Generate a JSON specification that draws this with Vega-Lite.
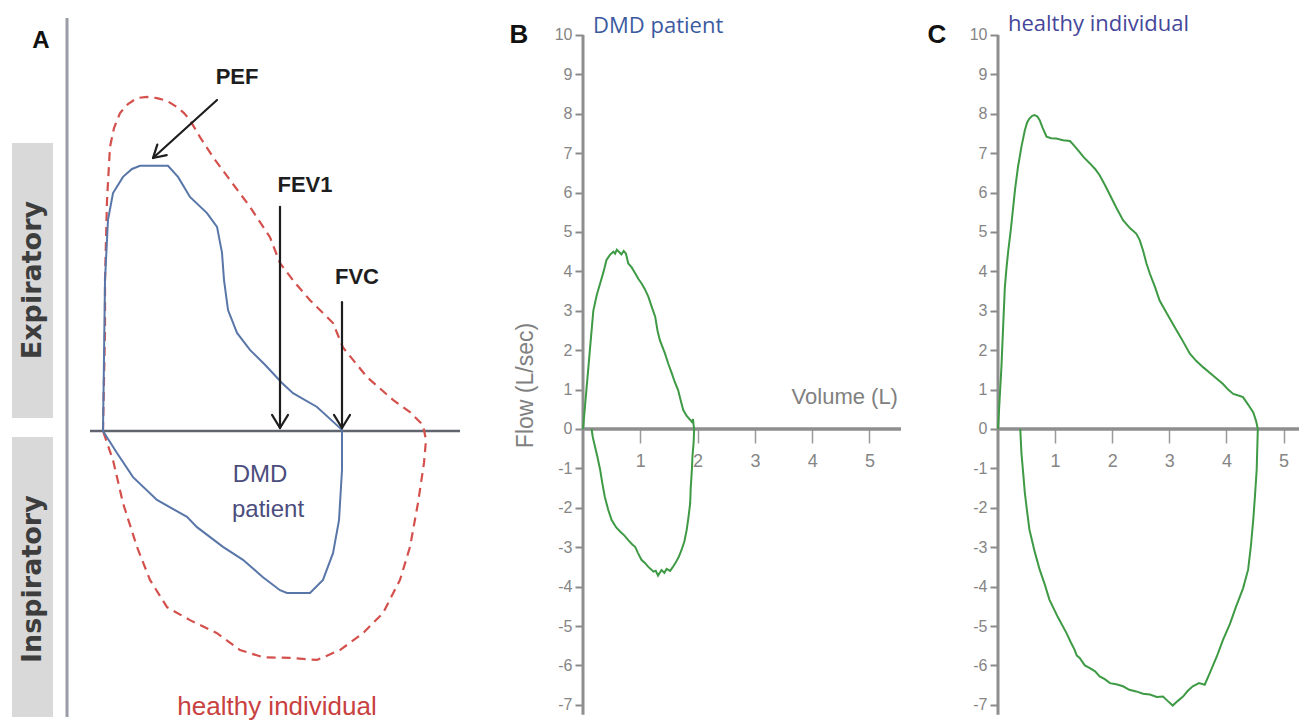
{
  "$schema": "https://vega.github.io/schema/vega-lite/v6.json",
  "padding": 0,
  "background": "white",
  "spacing": 0,
  "bounds": "flush",
  "config": {"view": {"stroke": null}, "axis": {"grid": false}},
  "datasets": {
    "aHealthy": [
      {"i":0,"x":0,"y":0},{"i":1,"x":0.017,"y":1.29},{"i":2,"x":0.035,"y":2.56},{"i":3,"x":0.035,"y":3.83},{"i":4,"x":0.07,"y":5.86},{"i":5,"x":0.122,"y":7.21},{"i":6,"x":0.192,"y":7.69},{"i":7,"x":0.297,"y":8.07},{"i":8,"x":0.436,"y":8.30},{"i":9,"x":0.593,"y":8.45},{"i":10,"x":0.768,"y":8.48},{"i":11,"x":0.942,"y":8.45},{"i":12,"x":1.117,"y":8.38},{"i":13,"x":1.291,"y":8.22},{"i":14,"x":1.414,"y":8.07},{"i":15,"x":1.518,"y":7.89},{"i":16,"x":1.693,"y":7.46},{"i":17,"x":1.92,"y":6.95},{"i":18,"x":2.216,"y":6.37},{"i":19,"x":2.565,"y":5.69},{"i":20,"x":2.914,"y":4.92},{"i":21,"x":3.089,"y":4.26},{"i":22,"x":3.351,"y":3.76},{"i":23,"x":3.613,"y":3.32},{"i":24,"x":4.014,"y":2.74},{"i":25,"x":4.188,"y":2.12},{"i":26,"x":4.607,"y":1.37},{"i":27,"x":5.061,"y":0.79},{"i":28,"x":5.358,"y":0.48},{"i":29,"x":5.585,"y":0.15},{"i":30,"x":5.637,"y":-0.23},{"i":31,"x":5.602,"y":-0.81},{"i":32,"x":5.497,"y":-1.83},{"i":33,"x":5.358,"y":-2.94},{"i":34,"x":5.183,"y":-3.78},{"i":35,"x":4.887,"y":-4.62},{"i":36,"x":4.538,"y":-5.13},{"i":37,"x":4.136,"y":-5.56},{"i":38,"x":3.735,"y":-5.81},{"i":39,"x":3.264,"y":-5.76},{"i":40,"x":2.792,"y":-5.74},{"i":41,"x":2.391,"y":-5.56},{"i":42,"x":1.99,"y":-5.13},{"i":43,"x":1.518,"y":-4.80},{"i":44,"x":1.117,"y":-4.47},{"i":45,"x":0.82,"y":-3.78},{"i":46,"x":0.593,"y":-2.94},{"i":47,"x":0.349,"y":-1.83},{"i":48,"x":0.175,"y":-0.74},{"i":49,"x":0,"y":0}
    ],
    "aDMD": [
      {"i":0,"x":0,"y":0},{"i":1,"x":0.017,"y":1.80},{"i":2,"x":0.035,"y":3.83},{"i":3,"x":0.087,"y":5.36},{"i":4,"x":0.175,"y":6.04},{"i":5,"x":0.349,"y":6.45},{"i":6,"x":0.506,"y":6.65},{"i":7,"x":0.646,"y":6.73},{"i":8,"x":0.908,"y":6.73},{"i":9,"x":1.134,"y":6.73},{"i":10,"x":1.309,"y":6.45},{"i":11,"x":1.518,"y":5.94},{"i":12,"x":1.815,"y":5.53},{"i":13,"x":1.99,"y":5.18},{"i":14,"x":2.077,"y":4.52},{"i":15,"x":2.112,"y":3.83},{"i":16,"x":2.182,"y":3.07},{"i":17,"x":2.339,"y":2.49},{"i":18,"x":2.565,"y":2.06},{"i":19,"x":2.827,"y":1.68},{"i":20,"x":3.124,"y":1.22},{"i":21,"x":3.316,"y":0.96},{"i":22,"x":3.735,"y":0.61},{"i":23,"x":4.171,"y":0.03},{"i":24,"x":4.171,"y":-0.99},{"i":25,"x":4.119,"y":-2.26},{"i":26,"x":4.014,"y":-3.10},{"i":27,"x":3.839,"y":-3.78},{"i":28,"x":3.613,"y":-4.11},{"i":29,"x":3.211,"y":-4.11},{"i":30,"x":3.089,"y":-4.04},{"i":31,"x":2.792,"y":-3.71},{"i":32,"x":2.443,"y":-3.27},{"i":33,"x":2.094,"y":-2.94},{"i":34,"x":1.64,"y":-2.44},{"i":35,"x":1.466,"y":-2.18},{"i":36,"x":0.942,"y":-1.75},{"i":37,"x":0.524,"y":-1.17},{"i":38,"x":0.244,"y":-0.56},{"i":39,"x":0,"y":0}
    ],
    "bLoop": [
      {"i":0,"v":0,"f":0},{"i":1,"v":0.03,"f":0.5},{"i":2,"v":0.06,"f":1.0},{"i":3,"v":0.12,"f":2.0},{"i":4,"v":0.18,"f":3.0},{"i":5,"v":0.24,"f":3.4},{"i":6,"v":0.30,"f":3.7},{"i":7,"v":0.36,"f":4.0},{"i":8,"v":0.41,"f":4.29},{"i":9,"v":0.47,"f":4.42},{"i":10,"v":0.53,"f":4.5},{"i":11,"v":0.56,"f":4.45},{"i":12,"v":0.59,"f":4.55},{"i":13,"v":0.64,"f":4.48},{"i":14,"v":0.67,"f":4.43},{"i":15,"v":0.71,"f":4.52},{"i":16,"v":0.75,"f":4.45},{"i":17,"v":0.79,"f":4.2},{"i":18,"v":0.85,"f":4.1},{"i":19,"v":0.91,"f":3.95},{"i":20,"v":0.97,"f":3.8},{"i":21,"v":1.02,"f":3.7},{"i":22,"v":1.08,"f":3.55},{"i":23,"v":1.14,"f":3.36},{"i":24,"v":1.20,"f":3.1},{"i":25,"v":1.26,"f":2.85},{"i":26,"v":1.30,"f":2.5},{"i":27,"v":1.34,"f":2.26},{"i":28,"v":1.43,"f":1.92},{"i":29,"v":1.49,"f":1.65},{"i":30,"v":1.55,"f":1.41},{"i":31,"v":1.60,"f":1.2},{"i":32,"v":1.66,"f":0.99},{"i":33,"v":1.71,"f":0.7},{"i":34,"v":1.75,"f":0.48},{"i":35,"v":1.81,"f":0.33},{"i":36,"v":1.87,"f":0.23},{"i":37,"v":1.90,"f":0.18},{"i":38,"v":1.92,"f":0.25},{"i":39,"v":1.93,"f":0.1},{"i":40,"v":1.94,"f":0},{"i":41,"v":1.93,"f":-0.36},{"i":42,"v":1.91,"f":-0.7},{"i":43,"v":1.90,"f":-1.04},{"i":44,"v":1.88,"f":-1.5},{"i":45,"v":1.87,"f":-1.89},{"i":46,"v":1.84,"f":-2.25},{"i":47,"v":1.81,"f":-2.56},{"i":48,"v":1.77,"f":-2.85},{"i":49,"v":1.72,"f":-3.07},{"i":50,"v":1.67,"f":-3.25},{"i":51,"v":1.61,"f":-3.41},{"i":52,"v":1.56,"f":-3.52},{"i":53,"v":1.52,"f":-3.6},{"i":54,"v":1.46,"f":-3.55},{"i":55,"v":1.42,"f":-3.65},{"i":56,"v":1.37,"f":-3.58},{"i":57,"v":1.31,"f":-3.72},{"i":58,"v":1.27,"f":-3.6},{"i":59,"v":1.23,"f":-3.62},{"i":60,"v":1.18,"f":-3.55},{"i":61,"v":1.14,"f":-3.5},{"i":62,"v":1.08,"f":-3.4},{"i":63,"v":1.02,"f":-3.32},{"i":64,"v":0.96,"f":-3.15},{"i":65,"v":0.91,"f":-2.99},{"i":66,"v":0.86,"f":-2.93},{"i":67,"v":0.79,"f":-2.82},{"i":68,"v":0.72,"f":-2.7},{"i":69,"v":0.66,"f":-2.62},{"i":70,"v":0.58,"f":-2.5},{"i":71,"v":0.50,"f":-2.31},{"i":72,"v":0.44,"f":-2.05},{"i":73,"v":0.38,"f":-1.72},{"i":74,"v":0.34,"f":-1.4},{"i":75,"v":0.30,"f":-1.04},{"i":76,"v":0.25,"f":-0.7},{"i":77,"v":0.21,"f":-0.45},{"i":78,"v":0.17,"f":-0.2},{"i":79,"v":0.15,"f":0}
    ],
    "cLoop": [
      {"i":0,"v":0,"f":0},{"i":1,"v":0.03,"f":0.8},{"i":2,"v":0.06,"f":1.57},{"i":3,"v":0.09,"f":2.6},{"i":4,"v":0.12,"f":3.6},{"i":5,"v":0.15,"f":4.1},{"i":6,"v":0.18,"f":4.53},{"i":7,"v":0.22,"f":5.0},{"i":8,"v":0.26,"f":5.55},{"i":9,"v":0.30,"f":6.1},{"i":10,"v":0.35,"f":6.65},{"i":11,"v":0.41,"f":7.16},{"i":12,"v":0.47,"f":7.58},{"i":13,"v":0.51,"f":7.78},{"i":14,"v":0.55,"f":7.88},{"i":15,"v":0.60,"f":7.95},{"i":16,"v":0.64,"f":7.97},{"i":17,"v":0.69,"f":7.93},{"i":18,"v":0.73,"f":7.84},{"i":19,"v":0.78,"f":7.65},{"i":20,"v":0.85,"f":7.42},{"i":21,"v":0.93,"f":7.38},{"i":22,"v":1.02,"f":7.37},{"i":23,"v":1.14,"f":7.33},{"i":24,"v":1.26,"f":7.31},{"i":25,"v":1.33,"f":7.2},{"i":26,"v":1.40,"f":7.08},{"i":27,"v":1.50,"f":6.9},{"i":28,"v":1.61,"f":6.74},{"i":29,"v":1.70,"f":6.6},{"i":30,"v":1.78,"f":6.44},{"i":31,"v":1.87,"f":6.2},{"i":32,"v":1.95,"f":5.97},{"i":33,"v":2.07,"f":5.62},{"i":34,"v":2.19,"f":5.3},{"i":35,"v":2.31,"f":5.1},{"i":36,"v":2.42,"f":4.96},{"i":37,"v":2.48,"f":4.8},{"i":38,"v":2.54,"f":4.53},{"i":39,"v":2.60,"f":4.2},{"i":40,"v":2.66,"f":3.94},{"i":41,"v":2.75,"f":3.6},{"i":42,"v":2.83,"f":3.26},{"i":43,"v":2.95,"f":2.95},{"i":44,"v":3.06,"f":2.67},{"i":45,"v":3.21,"f":2.3},{"i":46,"v":3.36,"f":1.91},{"i":47,"v":3.47,"f":1.73},{"i":48,"v":3.59,"f":1.57},{"i":49,"v":3.77,"f":1.35},{"i":50,"v":3.94,"f":1.14},{"i":51,"v":4.03,"f":1.0},{"i":52,"v":4.12,"f":0.89},{"i":53,"v":4.21,"f":0.85},{"i":54,"v":4.29,"f":0.81},{"i":55,"v":4.38,"f":0.62},{"i":56,"v":4.47,"f":0.42},{"i":57,"v":4.52,"f":0.2},{"i":58,"v":4.55,"f":0},{"i":59,"v":4.53,"f":-1.03},{"i":60,"v":4.50,"f":-1.7},{"i":61,"v":4.47,"f":-2.3},{"i":62,"v":4.43,"f":-2.95},{"i":63,"v":4.38,"f":-3.57},{"i":64,"v":4.29,"f":-4.05},{"i":65,"v":4.17,"f":-4.5},{"i":66,"v":4.06,"f":-4.95},{"i":67,"v":3.94,"f":-5.35},{"i":68,"v":3.83,"f":-5.78},{"i":69,"v":3.71,"f":-6.19},{"i":70,"v":3.62,"f":-6.49},{"i":71,"v":3.52,"f":-6.45},{"i":72,"v":3.41,"f":-6.53},{"i":73,"v":3.32,"f":-6.65},{"i":74,"v":3.24,"f":-6.79},{"i":75,"v":3.15,"f":-6.9},{"i":76,"v":3.06,"f":-7.02},{"i":77,"v":2.97,"f":-6.9},{"i":78,"v":2.89,"f":-6.79},{"i":79,"v":2.78,"f":-6.8},{"i":80,"v":2.66,"f":-6.74},{"i":81,"v":2.54,"f":-6.72},{"i":82,"v":2.42,"f":-6.66},{"i":83,"v":2.30,"f":-6.62},{"i":84,"v":2.19,"f":-6.53},{"i":85,"v":2.07,"f":-6.48},{"i":86,"v":1.96,"f":-6.45},{"i":87,"v":1.87,"f":-6.35},{"i":88,"v":1.78,"f":-6.28},{"i":89,"v":1.70,"f":-6.15},{"i":90,"v":1.61,"f":-6.07},{"i":91,"v":1.52,"f":-6.0},{"i":92,"v":1.43,"f":-5.81},{"i":93,"v":1.38,"f":-5.75},{"i":94,"v":1.34,"f":-5.6},{"i":95,"v":1.27,"f":-5.4},{"i":96,"v":1.20,"f":-5.18},{"i":97,"v":1.05,"f":-4.78},{"i":98,"v":0.90,"f":-4.33},{"i":99,"v":0.82,"f":-3.95},{"i":100,"v":0.73,"f":-3.57},{"i":101,"v":0.64,"f":-3.1},{"i":102,"v":0.55,"f":-2.55},{"i":103,"v":0.51,"f":-2.1},{"i":104,"v":0.47,"f":-1.62},{"i":105,"v":0.44,"f":-1.1},{"i":106,"v":0.41,"f":-0.61},{"i":107,"v":0.39,"f":0}
    ]
  },
  "hconcat": [
    {
      "width": 583,
      "height": 721,
      "encoding": {
        "x": {"field": "x", "type": "quantitative", "scale": {"domain": [-1.7976, 8.377], "nice": false, "zero": false}, "axis": null},
        "y": {"field": "y", "type": "quantitative", "scale": {"domain": [-7.36, 10.939], "nice": false, "zero": false}, "axis": null}
      },
      "layer": [
        {
          "data": {"values": [{"x": -1.588, "x2": -0.873, "y": 7.31, "y2": 0.33}, {"x": -1.588, "x2": -0.873, "y": -0.15, "y2": -7.26}]},
          "mark": {"type": "rect", "color": "#d9d9d9"},
          "encoding": {"x2": {"field": "x2"}, "y2": {"field": "y2"}}
        },
        {
          "data": {"values": [{"x": -1.23, "y": 3.83, "t": "Expiratory"}, {"x": -1.23, "y": -3.76, "t": "Inspiratory"}]},
          "mark": {"type": "text", "angle": 270, "font": "DejaVu Sans", "fontWeight": "bold", "fontSize": 27, "color": "#3d3d3d", "align": "center", "baseline": "middle"},
          "encoding": {"text": {"field": "t"}}
        },
        {
          "data": {"values": [{"x": -0.628, "y": 10.48, "x2": -0.628, "y2": -7.26}]},
          "mark": {"type": "rule", "color": "#9a9da8", "strokeWidth": 3},
          "encoding": {"x2": {"field": "x2"}, "y2": {"field": "y2"}}
        },
        {
          "data": {"values": [{"x": -0.227, "y": 0, "x2": 6.23, "y2": 0}]},
          "mark": {"type": "rule", "color": "#60646f", "strokeWidth": 2.5},
          "encoding": {"x2": {"field": "x2"}, "y2": {"field": "y2"}}
        },
        {
          "data": {"name": "aHealthy"},
          "mark": {"type": "line", "color": "#d4504c", "strokeWidth": 2.2, "strokeDash": [9, 6]},
          "encoding": {"order": {"field": "i", "type": "quantitative"}}
        },
        {
          "data": {"name": "aDMD"},
          "mark": {"type": "line", "color": "#5876a8", "strokeWidth": 2},
          "encoding": {"order": {"field": "i", "type": "quantitative"}}
        },
        {
          "data": {"values": [
            {"x": 1.99, "y": 8.40, "x2": 0.873, "y2": 6.93},
            {"x": 0.873, "y": 6.93, "x2": 1.112, "y2": 7.0},
            {"x": 0.873, "y": 6.93, "x2": 0.948, "y2": 7.27},
            {"x": 3.089, "y": 5.69, "x2": 3.089, "y2": 0.076},
            {"x": 3.089, "y": 0.076, "x2": 2.95, "y2": 0.41},
            {"x": 3.089, "y": 0.076, "x2": 3.229, "y2": 0.41},
            {"x": 4.171, "y": 3.27, "x2": 4.171, "y2": 0.076},
            {"x": 4.171, "y": 0.076, "x2": 4.031, "y2": 0.41},
            {"x": 4.171, "y": 0.076, "x2": 4.311, "y2": 0.41}
          ]},
          "mark": {"type": "rule", "color": "#1e1e1e", "strokeWidth": 2.2, "strokeCap": "round"},
          "encoding": {"x2": {"field": "x2"}, "y2": {"field": "y2"}}
        },
        {
          "data": {"values": [
            {"x": 2.339, "y": 8.98, "t": "PEF"},
            {"x": 3.525, "y": 6.24, "t": "FEV1"},
            {"x": 4.433, "y": 3.91, "t": "FVC"}
          ]},
          "mark": {"type": "text", "font": "Liberation Sans", "fontWeight": "bold", "fontSize": 22, "color": "#1e1e1e", "align": "center", "baseline": "middle"},
          "encoding": {"text": {"field": "t"}}
        },
        {
          "data": {"values": [{"x": -1.082, "y": 9.9, "t": "A"}]},
          "mark": {"type": "text", "font": "Liberation Sans", "fontWeight": "bold", "fontSize": 24, "color": "#111111", "align": "center", "baseline": "middle"},
          "encoding": {"text": {"field": "t"}}
        },
        {
          "data": {"values": [{"x": 2.74, "y": -1.12, "t": "DMD"}, {"x": 2.88, "y": -2.0, "t": "patient"}]},
          "mark": {"type": "text", "font": "Liberation Sans", "fontSize": 24, "color": "#4b4d7d", "align": "center", "baseline": "middle"},
          "encoding": {"text": {"field": "t"}}
        },
        {
          "data": {"values": [{"x": 3.037, "y": -7.0, "t": "healthy individual"}]},
          "mark": {"type": "text", "font": "Liberation Sans", "fontSize": 26, "color": "#c8413f", "align": "center", "baseline": "middle"},
          "encoding": {"text": {"field": "t"}}
        }
      ]
    },
    {
      "width": 415,
      "height": 721,
      "encoding": {
        "x": {"field": "v", "type": "quantitative", "scale": {"domain": [0, 7.243], "nice": false, "zero": false},
              "axis": {"orient": "bottom", "offset": -292, "values": [1, 2, 3, 4, 5], "domain": false, "tickSize": 14, "tickWidth": 1.5, "tickColor": "#9a9a9a", "labelPadding": 9, "labelFont": "Liberation Sans", "labelFontSize": 18, "labelColor": "#858585", "title": null, "labelExpr": "'' + datum.value"}},
        "y": {"field": "f", "type": "quantitative", "scale": {"domain": [-7.411, 10.888], "nice": false, "zero": false},
              "axis": {"orient": "left", "values": [-7, -6, -5, -4, -3, -2, -1, 0, 1, 2, 3, 4, 5, 6, 7, 8, 9, 10], "domain": false, "tickSize": 8, "tickWidth": 2, "tickColor": "#8a8a8a", "labelPadding": 3, "labelFont": "Liberation Sans", "labelFontSize": 16, "labelColor": "#858585", "labelExpr": "'' + datum.value",
                       "title": "Flow (L/sec)", "titleFont": "Liberation Sans", "titleFontSize": 23, "titleFontWeight": "normal", "titleColor": "#808080", "titleX": -58, "titleY": 385, "titleBaseline": "middle", "titleAngle": 270}}
      },
      "layer": [
        {
          "data": {"values": [{"v": 0, "f": -7.25, "v2": 0, "f2": 10}]},
          "mark": {"type": "rule", "color": "#8e8e8e", "strokeWidth": 3},
          "encoding": {"x2": {"field": "v2"}, "y2": {"field": "f2"}}
        },
        {
          "data": {"values": [{"v": 0, "f": 0, "v2": 5.55, "f2": 0}]},
          "mark": {"type": "rule", "color": "#8e8e8e", "strokeWidth": 3.5},
          "encoding": {"x2": {"field": "v2"}, "y2": {"field": "f2"}}
        },
        {
          "data": {"name": "bLoop"},
          "mark": {"type": "line", "color": "#3e9a44", "strokeWidth": 2},
          "encoding": {"order": {"field": "i", "type": "quantitative"}}
        },
        {
          "data": {"values": [{"v": 5.497, "f": 0.81, "t": "Volume (L)"}]},
          "mark": {"type": "text", "font": "Liberation Sans", "fontSize": 22, "color": "#808080", "align": "right", "baseline": "middle"},
          "encoding": {"text": {"field": "t"}}
        },
        {
          "data": {"values": [{"v": 0.175, "f": 10.23, "t": "DMD patient"}]},
          "mark": {"type": "text", "font": "Open Sans", "fontSize": 22, "color": "#3b5aa0", "align": "left", "baseline": "middle"},
          "encoding": {"text": {"field": "t"}}
        },
        {
          "data": {"values": [{"v": -1.117, "f": 10.0, "t": "B"}]},
          "mark": {"type": "text", "font": "Liberation Sans", "fontWeight": "bold", "fontSize": 26, "color": "#111111", "align": "center", "baseline": "middle"},
          "encoding": {"text": {"field": "t"}}
        }
      ]
    },
    {
      "width": 301,
      "height": 721,
      "encoding": {
        "x": {"field": "v", "type": "quantitative", "scale": {"domain": [0, 5.271], "nice": false, "zero": false},
              "axis": {"orient": "bottom", "offset": -292, "values": [1, 2, 3, 4, 5], "domain": false, "tickSize": 14, "tickWidth": 1.5, "tickColor": "#9a9a9a", "labelPadding": 9, "labelFont": "Liberation Sans", "labelFontSize": 18, "labelColor": "#858585", "title": null, "labelExpr": "'' + datum.value"}},
        "y": {"field": "f", "type": "quantitative", "scale": {"domain": [-7.411, 10.888], "nice": false, "zero": false},
              "axis": {"orient": "left", "values": [-7, -6, -5, -4, -3, -2, -1, 0, 1, 2, 3, 4, 5, 6, 7, 8, 9, 10], "domain": false, "tickSize": 8, "tickWidth": 2, "tickColor": "#8a8a8a", "labelPadding": 3, "labelFont": "Liberation Sans", "labelFontSize": 16, "labelColor": "#858585", "labelExpr": "'' + datum.value", "title": null}}
      },
      "layer": [
        {
          "data": {"values": [{"v": 0, "f": -7.25, "v2": 0, "f2": 10}]},
          "mark": {"type": "rule", "color": "#8e8e8e", "strokeWidth": 3},
          "encoding": {"x2": {"field": "v2"}, "y2": {"field": "f2"}}
        },
        {
          "data": {"values": [{"v": 0, "f": 0, "v2": 5.271, "f2": 0}]},
          "mark": {"type": "rule", "color": "#8e8e8e", "strokeWidth": 3.5},
          "encoding": {"x2": {"field": "v2"}, "y2": {"field": "f2"}}
        },
        {
          "data": {"name": "cLoop"},
          "mark": {"type": "line", "color": "#3e9a44", "strokeWidth": 2},
          "encoding": {"order": {"field": "i", "type": "quantitative"}}
        },
        {
          "data": {"values": [{"v": 0.175, "f": 10.28, "t": "healthy individual"}]},
          "mark": {"type": "text", "font": "Open Sans", "fontSize": 22, "color": "#45479a", "align": "left", "baseline": "middle"},
          "encoding": {"text": {"field": "t"}}
        },
        {
          "data": {"values": [{"v": -1.068, "f": 10.0, "t": "C"}]},
          "mark": {"type": "text", "font": "Liberation Sans", "fontWeight": "bold", "fontSize": 26, "color": "#111111", "align": "center", "baseline": "middle"},
          "encoding": {"text": {"field": "t"}}
        }
      ]
    }
  ]
}
